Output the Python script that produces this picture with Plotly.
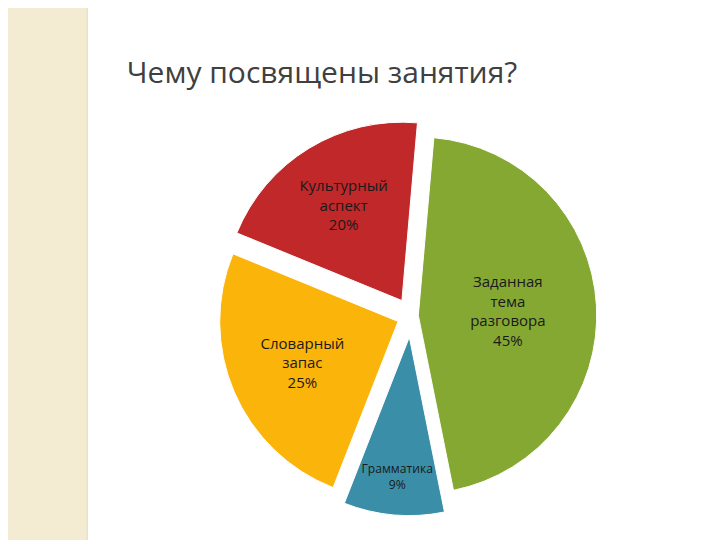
import plotly.graph_objects as go

labels = ["Заданная<br>тема<br>разговора", "Грамматика", "Словарный<br>запас", "Культурный<br>аспект"]
values = [45, 9, 25, 20]
colors = ["#84a832", "#3a8ea8", "#fbb40a", "#c0282a"]

fig = go.Figure()
fig.add_trace(go.Pie(
    labels=labels,
    values=values,
    sort=False,
    direction="clockwise",
    rotation=5,
    pull=[0.04, 0.12, 0.08, 0.1],
    marker=dict(colors=colors, line=dict(color="white", width=1)),
    texttemplate="%{label}<br>%{percent:.0%}",
    textposition="inside",
    insidetextorientation="horizontal",
    textfont=dict(family="Open Sans", size=15, color="#1a1a1a"),
    domain=dict(x=[0.16, 0.96], y=[0.06, 0.8]),
    showlegend=False,
))

# decorative left strip of the slide
fig.add_shape(type="rect", xref="paper", yref="paper", x0=0, x1=0.11, y0=0, y1=1,
              fillcolor="#f3ecd2", line=dict(width=0), layer="below")
fig.add_shape(type="line", xref="paper", yref="paper", x0=0.11, x1=0.11, y0=0, y1=1,
              line=dict(color="#e2d7b0", width=1))

fig.update_layout(
    width=720, height=540,
    margin=dict(l=0, r=0, t=0, b=0),
    paper_bgcolor="white",
    title=dict(text="Чему посвящены занятия?", x=0.165, y=0.9, xanchor="left",
               font=dict(family="Open Sans", size=30, color="#404040")),
)

fig.write_html("out.html")
